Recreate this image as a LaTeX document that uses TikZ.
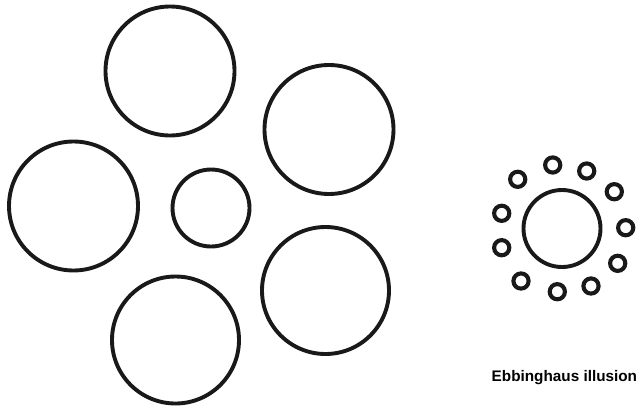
\documentclass[tikz,border=0pt]{standalone}
\usepackage{fontspec}
\setmainfont{Liberation Sans}
\begin{document}
\begin{tikzpicture}[x=1pt,y=-1pt,
  bigring/.style={draw=black!90, line width=3.9pt},
  smallring/.style={draw=black!90, line width=4.1pt}]
\useasboundingbox (0,0) rectangle (639,407);
% left configuration
\draw[bigring] (211,208) circle (38.5);
\draw[bigring] (170,71) circle (64.5);
\draw[bigring] (329,129.5) circle (64.5);
\draw[bigring] (73.5,206) circle (64.5);
\draw[bigring] (175.5,340) circle (63.5);
\draw[bigring] (325.5,290.5) circle (63.5);
% right configuration
\draw[bigring] (562,228.5) circle (38.5);
\foreach \p in {(552.7,165),(586.7,171),(614.3,191.7),(625.7,227.7),(617.7,263.3),(591,286),(557.3,291.7),(521,281),(501.7,247.7),(501.7,213.3),(517.7,179.3)}
  \draw[smallring] \p circle (7.6);
\node[anchor=base west, inner sep=0pt, font=\bfseries\fontsize{15.3}{17}\selectfont] (lbl) at (491.5,381.7) {Ebbinghaus illusion};
\end{tikzpicture}
\end{document}
